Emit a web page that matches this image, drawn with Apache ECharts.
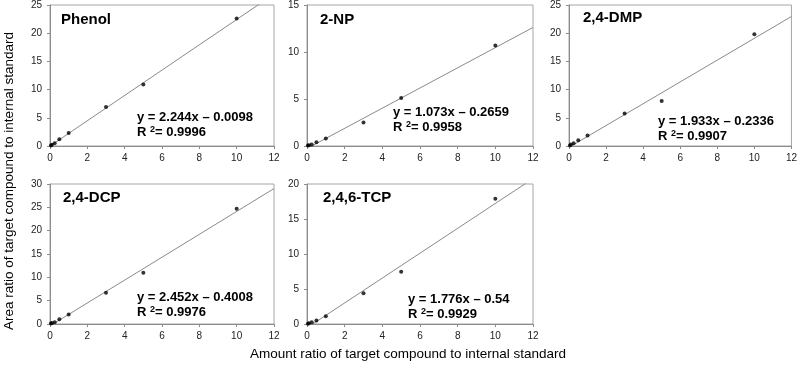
<!DOCTYPE html>
<html>
<head>
<meta charset="utf-8">
<script src="https://cdn.jsdelivr.net/npm/echarts@6/dist/echarts.min.js"></script>
<style>html,body{margin:0;padding:0;background:#fff}#c{width:800px;height:369px}</style>
</head>
<body>
<div id="c"></div>
<script>
const compounds = ['Phenol', '2-NP', '2,4-DMP', '2,4-DCP', '2,4,6-TCP'];
const amountRatio = [0.05, 0.1, 0.25, 0.5, 1, 3, 5, 10];
const phenolArea = [0.1, 0.2, 0.5, 1.2, 2.3, 6.9, 10.9, 22.6];
const npArea = [0.04, 0.08, 0.15, 0.4, 0.8, 2.5, 5.1, 10.7];
const dmpArea = [0.1, 0.25, 0.5, 1.0, 1.85, 5.75, 8.0, 19.8];
const dcpArea = [0.1, 0.2, 0.4, 1.0, 2.05, 6.7, 11.0, 24.7];
const tcpArea = [0.05, 0.1, 0.25, 0.5, 1.1, 4.4, 7.45, 17.9];
const slopes = [2.244, 1.073, 1.933, 2.452, 1.776];
const intercepts = [-0.0098, -0.2659, -0.2336, -0.4008, -0.54];
const eqTexts = ['y = 2.244x \u2013 0.0098', 'y = 1.073x \u2013 0.2659', 'y = 1.933x \u2013 0.2336', 'y = 2.452x \u2013 0.4008', 'y = 1.776x \u2013 0.54'];
const r2Texts = ['0.9996', '0.9958', '0.9907', '0.9976', '0.9929'];
const yMax = [25, 15, 25, 30, 20];
const yInterval = [5, 5, 5, 5, 5];
const xTicks = [0, 2, 4, 6, 8, 10, 12];
const xLabel = 'Amount ratio of target compound to internal standard';
const yLabel = 'Area ratio of target compound to internal standard';

const areaSets = [phenolArea, npArea, dmpArea, dcpArea, tcpArea];

// layout
const grids = [
  {left: 50, top: 5, width: 224, height: 141},
  {left: 307, top: 5, width: 226, height: 141},
  {left: 569, top: 5, width: 226, height: 141},
  {left: 50, top: 184, width: 224, height: 140},
  {left: 307, top: 184, width: 226, height: 140}
];
const titlePos = [[61, 12], [320, 12], [583, 10], [63, 190], [323, 190]];
const eqPos = [[137, 110], [393, 105], [658, 114], [137, 290], [408, 292]];

const font = 'Liberation Sans, Arial, sans-serif';
const option = {
  animation: false,
  backgroundColor: '#fff',
  grid: grids.map(g => Object.assign({show: true, borderColor: '#a6a6a6', borderWidth: 1, backgroundColor: 'transparent'}, g)),
  xAxis: grids.map((g, i) => ({
    gridIndex: i, type: 'value', min: 0, max: 12, interval: 2,
    axisLine: {show: true, lineStyle: {color: '#8c8c8c', width: 1}},
    axisTick: {show: true, inside: false, length: 3, lineStyle: {color: '#8c8c8c'}},
    axisLabel: {color: '#222', fontSize: 10, fontFamily: font, margin: 7},
    splitLine: {show: false}
  })),
  yAxis: grids.map((g, i) => ({
    gridIndex: i, type: 'value', min: 0, max: yMax[i], interval: yInterval[i],
    axisLine: {show: true, lineStyle: {color: '#8c8c8c', width: 1}},
    axisTick: {show: true, inside: false, length: 3, lineStyle: {color: '#8c8c8c'}},
    axisLabel: {color: '#222', fontSize: 10, fontFamily: font, margin: 8},
    splitLine: {show: false}
  })),
  series: [],
  graphic: []
};

compounds.forEach((name, i) => {
  option.series.push({
    type: 'line', xAxisIndex: i, yAxisIndex: i,
    data: [[xTicks[0], slopes[i] * xTicks[0] + intercepts[i]], [xTicks[xTicks.length - 1], slopes[i] * xTicks[xTicks.length - 1] + intercepts[i]]],
    showSymbol: false, symbol: 'none', clip: true,
    lineStyle: {color: '#8a8a8a', width: 1}, z: 2
  });
  option.series.push({
    type: 'scatter', xAxisIndex: i, yAxisIndex: i,
    data: amountRatio.map((x, k) => [x, areaSets[i][k]]),
    symbol: 'circle', symbolSize: 4,
    itemStyle: {color: '#000'}, z: 3
  });
  option.graphic.push({
    type: 'text', left: titlePos[i][0], top: titlePos[i][1],
    style: {text: name, font: 'bold 15px ' + font, fill: '#000'}
  });
  option.graphic.push({
    type: 'text', left: eqPos[i][0], top: eqPos[i][1],
    style: {
      text: eqTexts[i] + '\nR {s|2}= ' + r2Texts[i],
      font: 'bold 13px ' + font, fill: '#000', lineHeight: 15,
      rich: {s: {font: 'bold 9px ' + font, fill: '#000', verticalAlign: 'top', padding: [0, 0, 6, 0]}}
    }
  });
});

option.graphic.push({
  type: 'text', left: 250, top: 347,
  style: {text: xLabel, font: '13.5px ' + font, fill: '#000'}
});
option.graphic.push({
  type: 'text', rotation: Math.PI / 2, x: 2, y: 330, originX: 0, originY: 0,
  style: {text: yLabel, font: '13.5px ' + font, fill: '#000', textVerticalAlign: 'top'}
});

const chart = echarts.init(document.getElementById('c'), null, {renderer: 'canvas'});
chart.setOption(option);
</script>
</body>
</html>
